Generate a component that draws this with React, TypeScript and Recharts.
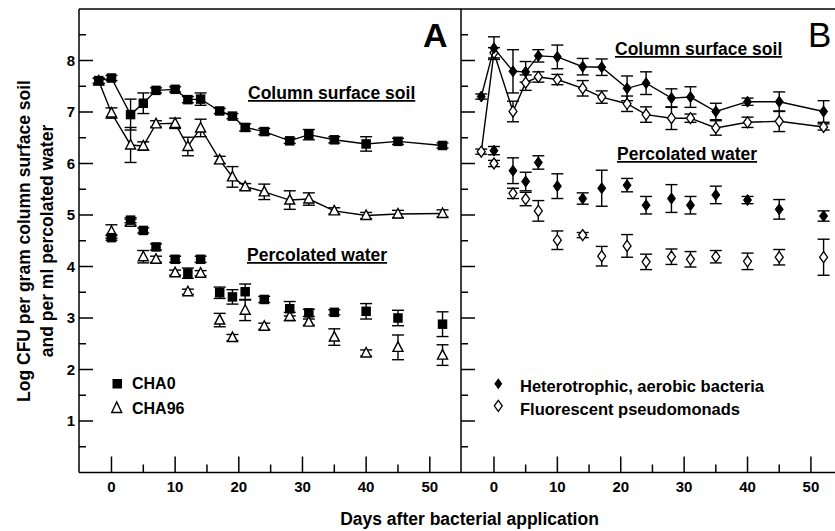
import React from 'react';
import { ScatterChart, Scatter, XAxis, YAxis, ErrorBar, ReferenceLine } from 'recharts';

// ---------- Panel A data (days after application) ----------
const daysA = [-2, 0, 3, 5, 7, 10, 12, 14, 17, 19, 21, 24, 28, 31, 35, 40, 45, 52];
const cha0Soil = [7.61, 7.66, 6.95, 7.17, 7.42, 7.44, 7.24, 7.25, 7.02, 6.92, 6.7, 6.62, 6.44, 6.56, 6.46, 6.38, 6.43, 6.35];
const cha0SoilErr = [0.05, 0.05, 0.3, 0.2, 0.05, 0.05, 0.06, 0.12, 0.05, 0.05, 0.07, 0.06, 0.05, 0.1, 0.06, 0.14, 0.06, 0.05];
const cha96Soil = [7.6, 6.98, 6.36, 6.34, 6.77, 6.78, 6.33, 6.69, 6.07, 5.74, 5.55, 5.45, 5.29, 5.31, 5.08, 4.99, 5.02, 5.03];
const cha96SoilErr = [0.05, 0.1, 0.34, 0.08, 0.06, 0.1, 0.18, 0.17, 0.07, 0.2, 0.06, 0.15, 0.18, 0.12, 0.06, 0.06, 0.07, 0.07];
const cha0Water = [null, 4.56, 4.9, 4.7, 4.38, 4.14, 3.87, 4.14, 3.49, 3.41, 3.51, 3.36, 3.18, 3.1, 3.11, 3.13, 3.0, 2.88];
const cha0WaterErr = [null, 0.05, 0.05, 0.05, 0.06, 0.06, 0.1, 0.06, 0.11, 0.14, 0.15, 0.06, 0.14, 0.07, 0.05, 0.15, 0.15, 0.24];
const cha96Water = [null, 4.68, 4.86, 4.19, 4.14, 3.88, 3.51, 3.87, 2.96, 2.62, 3.15, 2.84, 3.03, 2.92, 2.63, 2.32, 2.43, 2.28];
const cha96WaterErr = [null, 0.13, 0.06, 0.12, 0.06, 0.05, 0.05, 0.05, 0.13, 0.06, 0.2, 0.06, 0.08, 0.06, 0.16, 0.06, 0.24, 0.2];

// ---------- Panel B data ----------
const daysB = [-2, 0, 3, 5, 7, 10, 14, 17, 21, 24, 28, 31, 35, 40, 45, 52];
const hetSoil = [7.3, 8.24, 7.79, 7.78, 8.09, 8.07, 7.88, 7.87, 7.46, 7.56, 7.27, 7.29, 7.01, 7.2, 7.2, 7.01];
const hetSoilErr = [0.05, 0.22, 0.42, 0.2, 0.12, 0.23, 0.16, 0.16, 0.24, 0.22, 0.18, 0.2, 0.16, 0.07, 0.19, 0.21];
const fluSoil = [6.23, 8.15, 7.01, 7.57, 7.68, 7.63, 7.46, 7.29, 7.16, 6.95, 6.88, 6.88, 6.69, 6.8, 6.82, 6.71];
const fluSoilErr = [0.05, 0.1, 0.2, 0.15, 0.1, 0.1, 0.15, 0.12, 0.15, 0.15, 0.22, 0.08, 0.14, 0.1, 0.2, 0.06];
const hetWater = [null, 6.25, 5.86, 5.65, 6.02, 5.56, 5.32, 5.52, 5.58, 5.19, 5.32, 5.19, 5.39, 5.29, 5.11, 4.98];
const hetWaterErr = [null, 0.08, 0.25, 0.18, 0.13, 0.24, 0.11, 0.35, 0.13, 0.17, 0.27, 0.17, 0.17, 0.07, 0.19, 0.1];
const fluWater = [null, 6.0, 5.42, 5.31, 5.08, 4.51, 4.61, 4.2, 4.4, 4.09, 4.19, 4.14, 4.19, 4.1, 4.18, 4.18];
const fluWaterErr = [null, 0.06, 0.1, 0.13, 0.2, 0.18, 0.05, 0.19, 0.22, 0.15, 0.15, 0.15, 0.12, 0.16, 0.15, 0.35];

// ---------- Axis ticks ----------
const yTicks = [0.5, 1, 1.5, 2, 2.5, 3, 3.5, 4, 4.5, 5, 5.5, 6, 6.5, 7, 7.5, 8, 8.5];
const xTicks = [0, 5, 10, 15, 20, 25, 30, 35, 40, 45, 50];

// ---------- Texts ----------
const xTitle = 'Days after bacterial application';
const yTitle1 = 'Log CFU per gram column surface soil';
const yTitle2 = 'and per ml percolated water';
const soilLabel = 'Column surface soil';
const waterLabel = 'Percolated water';
const legendA = ['CHA0', 'CHA96'];
const legendB = ['Heterotrophic, aerobic bacteria', 'Fluorescent pseudomonads'];

type Pt = { x: number; y: number; e: number };
const build = (days: number[], vals: (number | null)[], errs: (number | null)[]): Pt[] =>
  days
    .map((d, i) => ({ x: d, y: vals[i], e: errs[i] }))
    .filter((p) => p.y !== null) as Pt[];

const FONT = '"Liberation Sans", Arial, Helvetica, sans-serif';

const Square = (p: any) => <rect x={p.cx - 4.75} y={p.cy - 4.75} width={9.5} height={9.5} fill="#000" />;
const Triangle = (p: any) => (
  <polygon
    points={`${p.cx},${p.cy - 5.5} ${p.cx - 5},${p.cy + 4} ${p.cx + 5},${p.cy + 4}`}
    fill="#fff"
    stroke="#000"
    strokeWidth={1.4}
  />
);
const DiamondFilled = (p: any) => (
  <polygon
    points={`${p.cx},${p.cy - 5.5} ${p.cx + 4},${p.cy} ${p.cx},${p.cy + 5.5} ${p.cx - 4},${p.cy}`}
    fill="#000"
    stroke="#000"
    strokeWidth={1}
  />
);
const DiamondOpen = (p: any) => (
  <polygon
    points={`${p.cx},${p.cy - 5.5} ${p.cx + 4},${p.cy} ${p.cx},${p.cy + 5.5} ${p.cx - 4},${p.cy}`}
    fill="#fff"
    stroke="#000"
    strokeWidth={1.3}
  />
);

const makeYTick = (labels: boolean) => (props: any) => {
  const { x, y, payload } = props;
  const v = payload.value as number;
  const major = Number.isInteger(v);
  return (
    <g>
      <line x1={x} y1={y} x2={x + (major ? 14 : 7)} y2={y} stroke="#000" strokeWidth={1.5} />
      {labels && major && (
        <text x={x - 4} y={y} dy="0.36em" textAnchor="end" fontFamily={FONT} fontWeight="bold" fontSize={15} fill="#000">
          {v}
        </text>
      )}
    </g>
  );
};

const XTick = (props: any) => {
  const { x, y, payload } = props;
  const v = payload.value as number;
  const major = v % 10 === 0;
  return (
    <g>
      <line x1={x} y1={y} x2={x} y2={y - (major ? 16 : 8)} stroke="#000" strokeWidth={1.5} />
      {major && (
        <text x={x} y={y + 19} textAnchor="middle" fontFamily={FONT} fontWeight="bold" fontSize={15} fill="#000">
          {v}
        </text>
      )}
    </g>
  );
};

const lineStyle = { stroke: '#000', strokeWidth: 1.4 };
const axisStyle = { stroke: '#000', strokeWidth: 1.5 };

const dataA = {
  cha0Soil: build(daysA, cha0Soil, cha0SoilErr),
  cha96Soil: build(daysA, cha96Soil, cha96SoilErr),
  cha0Water: build(daysA, cha0Water, cha0WaterErr),
  cha96Water: build(daysA, cha96Water, cha96WaterErr),
};
const dataB = {
  hetSoil: build(daysB, hetSoil, hetSoilErr),
  fluSoil: build(daysB, fluSoil, fluSoilErr),
  hetWater: build(daysB, hetWater, hetWaterErr),
  fluWater: build(daysB, fluWater, fluWaterErr),
};

const EB = () => <ErrorBar dataKey="e" direction="y" width={6} stroke="#000" strokeWidth={1.4} isAnimationActive={false} />;

export default function App() {
  return (
    <div style={{ position: 'absolute', left: 0, top: 0, width: 835, height: 531, background: '#fff', overflow: 'hidden' }}>
      <div style={{ position: 'absolute', left: 0, top: 0 }}>
        <ScatterChart width={461} height={531} margin={{ top: 9, right: 0, bottom: 0, left: 0 }}>
          <XAxis
            type="number"
            dataKey="x"
            domain={[-5.1, 54.9]}
            allowDataOverflow
            ticks={xTicks}
            interval={0}
            tickSize={0}
            tickMargin={0}
            height={58.5}
            axisLine={axisStyle}
            tickLine={false}
            tick={XTick}
          />
          <YAxis
            type="number"
            dataKey="y"
            domain={[0, 9]}
            allowDataOverflow
            ticks={yTicks}
            interval={0}
            tickSize={0}
            tickMargin={0}
            width={79}
            axisLine={axisStyle}
            tickLine={false}
            tick={makeYTick(true)}
          />
          <ReferenceLine y={9} stroke="#000" strokeWidth={1.5} />
          <Scatter data={dataA.cha96Soil} line={lineStyle} shape={Triangle} isAnimationActive={false}>
            {EB()}
          </Scatter>
          <Scatter data={dataA.cha0Soil} line={lineStyle} shape={Square} isAnimationActive={false}>
            {EB()}
          </Scatter>
          <Scatter data={dataA.cha96Water} shape={Triangle} isAnimationActive={false}>
            {EB()}
          </Scatter>
          <Scatter data={dataA.cha0Water} shape={Square} isAnimationActive={false}>
            {EB()}
          </Scatter>
        </ScatterChart>
      </div>
      <div style={{ position: 'absolute', left: 400, top: 0 }}>
        <ScatterChart width={435} height={531} margin={{ top: 9, right: 0, bottom: 0, left: 0 }}>
          <XAxis
            type="number"
            dataKey="x"
            domain={[-5.2, 53.8]}
            allowDataOverflow
            ticks={xTicks}
            interval={0}
            tickSize={0}
            tickMargin={0}
            height={58.5}
            axisLine={axisStyle}
            tickLine={false}
            tick={XTick}
          />
          <YAxis
            type="number"
            dataKey="y"
            domain={[0, 9]}
            allowDataOverflow
            ticks={yTicks}
            interval={0}
            tickSize={0}
            tickMargin={0}
            width={61}
            axisLine={axisStyle}
            tickLine={false}
            tick={makeYTick(false)}
          />
          <ReferenceLine y={9} stroke="#000" strokeWidth={1.5} />
          <Scatter data={dataB.fluSoil} line={lineStyle} shape={DiamondOpen} isAnimationActive={false}>
            {EB()}
          </Scatter>
          <Scatter data={dataB.hetSoil} line={lineStyle} shape={DiamondFilled} isAnimationActive={false}>
            {EB()}
          </Scatter>
          <Scatter data={dataB.fluWater} shape={DiamondOpen} isAnimationActive={false}>
            {EB()}
          </Scatter>
          <Scatter data={dataB.hetWater} shape={DiamondFilled} isAnimationActive={false}>
            {EB()}
          </Scatter>
        </ScatterChart>
      </div>
      <svg
        width={835}
        height={531}
        style={{ position: 'absolute', left: 0, top: 0, pointerEvents: 'none' }}
        fontFamily={FONT}
        fontWeight="bold"
        fill="#000"
      >
        <text x={469.5} y={525} textAnchor="middle" fontSize={17.5}>{xTitle}</text>
        <text transform="translate(30,241) rotate(-90)" textAnchor="middle" fontSize={17.5}>{yTitle1}</text>
        <text transform="translate(52.5,241) rotate(-90)" textAnchor="middle" fontSize={17.5}>{yTitle2}</text>

        <text x={423} y={47} fontSize={34}>A</text>
        <text x={808} y={47} fontSize={35} fontWeight="normal">B</text>

        <text x={248} y={99} fontSize={17.5} textDecoration="underline">{soilLabel}</text>
        <text x={247} y={261} fontSize={17.5} textDecoration="underline">{waterLabel}</text>
        <text x={615} y={55} fontSize={17.5} textDecoration="underline">{soilLabel}</text>
        <text x={617} y={160} fontSize={17.5} textDecoration="underline">{waterLabel}</text>

        <rect x={112.5} y={379} width={9.5} height={9.5} fill="#000" />
        <text x={132} y={389} fontSize={16}>{legendA[0]}</text>
        <polygon points="116.7,402 111.7,412.5 121.7,412.5" fill="#fff" stroke="#000" strokeWidth={1.4} />
        <text x={132} y={413.5} fontSize={16}>{legendA[1]}</text>

        <polygon points="498.3,378.3 502.3,383.8 498.3,389.3 494.3,383.8" fill="#000" />
        <text x={520} y={391.5} fontSize={16.5}>{legendB[0]}</text>
        <polygon points="498.3,400.3 502.3,405.8 498.3,411.3 494.3,405.8" fill="#fff" stroke="#000" strokeWidth={1.3} />
        <text x={520} y={415} fontSize={16.5}>{legendB[1]}</text>
      </svg>
    </div>
  );
}
